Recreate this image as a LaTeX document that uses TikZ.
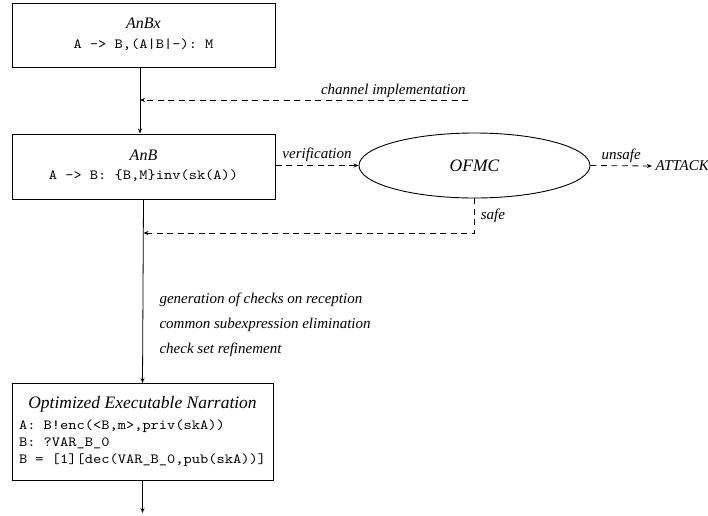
\documentclass[tikz,border=0pt]{standalone}
\usepackage{fontspec}
\setmainfont{Liberation Serif}
\setmonofont[FakeStretch=1.12]{lmmono10-regular.otf}
\usetikzlibrary{shapes.geometric,arrows.meta}

\begin{document}
\begin{tikzpicture}[
  x=1pt, y=-1pt,
  stage/.style={draw, line width=1pt, minimum width=263pt, inner sep=0pt},
  tool/.style={draw, line width=0.9pt, ellipse, minimum width=231pt, minimum height=65pt,
    font=\fontsize{17.5}{20}\selectfont\itshape},
  flow/.style={line width=0.8pt, -{Stealth[length=5pt,width=4pt]}},
  dflow/.style={flow, dash pattern=on 6pt off 4.5pt},
  lbl/.style={font=\fontsize{15}{18}\selectfont\itshape}
]

  \useasboundingbox (0,0) rectangle (708,515);

  % Kästen
  \node[stage, minimum height=64pt] (anbx) at (143.5,35)
    {\begin{tabular}{@{}c@{}}{\fontsize{16}{19}\selectfont\itshape AnBx}\\[6pt]
     {\fontsize{14}{17}\selectfont\ttfamily A -> B,(A|B|-): M}\end{tabular}};
  \node[stage, minimum height=65pt] (anb) at (143.5,166.5)
    {\begin{tabular}{@{}c@{}}{\fontsize{16}{19}\selectfont\itshape AnB}\\[6pt]
     {\fontsize{14}{17}\selectfont\ttfamily A -> B: \{B,M\}inv(sk(A))}\end{tabular}};
  \node[stage, minimum width=261pt, minimum height=97pt] (opt) at (142.5,432)
    {\fontsize{14}{17}\selectfont
     \begin{tabular}{@{}l@{}}\multicolumn{1}{@{}c@{}}{\fontsize{17.5}{20}\selectfont\itshape Optimized Executable Narration}\\[4pt]
     \ttfamily A: B!enc(<B,m>,priv(skA))\\
     \ttfamily B: ?VAR\_B\_0\\
     \ttfamily B = [1][dec(VAR\_B\_0,pub(skA))]\end{tabular}};

  \node[tool] (ofmc) at (474.5,165.5) {OFMC};
  \node[lbl, anchor=west] (attack) at (652,166) {ATTACK};

  % Hilfspunkte
  \coordinate (chan) at (468,100);
  \coordinate (safeturn) at (474.5,233);
  \coordinate (out) at (142.5,513);

  % Hauptfluss
  \draw[flow] ([xshift=-3.5pt]anbx.south) -- ([xshift=-3.5pt]anb.north);
  \draw[flow] (anb.south) -- (opt.north);
  \draw[flow] (opt.south) -- (out);

  % gestrichelte Pfeile
  \draw[dflow] (chan) -- ([xshift=-3.5pt]anbx.south |- chan)
    node[lbl, pos=0, above left, inner sep=2pt] {channel implementation};
  \draw[dflow] (anb.east |- ofmc.west) -- (ofmc.west)
    node[lbl, midway, above, inner sep=3pt] {verification};
  \draw[dflow] (ofmc.east) -- (attack.west)
    node[lbl, midway, above, inner sep=3pt] {unsafe};
  \draw[dflow] (ofmc.south) -- (safeturn)
    node[lbl, midway, right, inner sep=6pt] {safe} -- (anb.south |- safeturn);

  % Schritte
  \node[lbl, anchor=west, align=left] (steps) at (156,325)
    {generation of checks on reception\\[7pt] common subexpression elimination\\[7pt] check set refinement};

\end{tikzpicture}
\end{document}
